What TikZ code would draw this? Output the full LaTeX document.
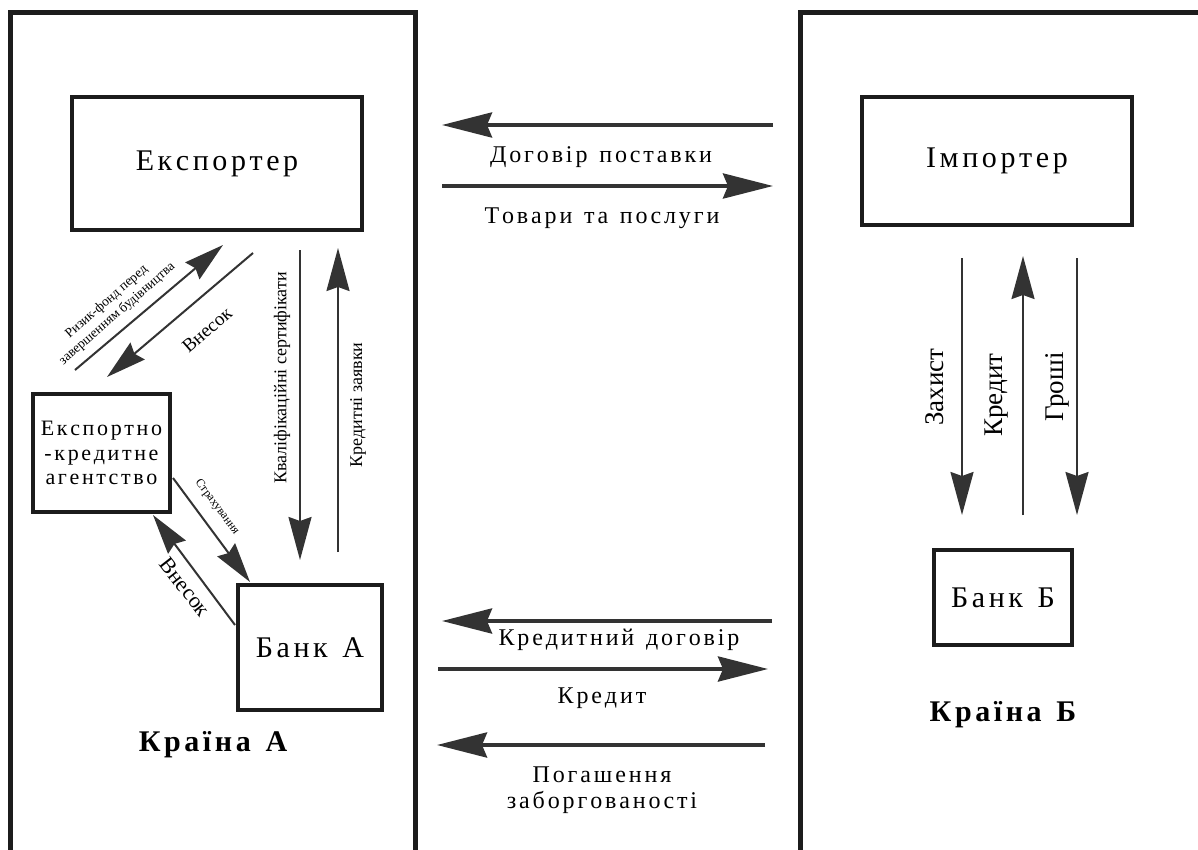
\documentclass[tikz,border=0pt]{standalone}
\usepackage{fontspec}
\setmainfont{Liberation Serif}
\newfontfamily\plainfont{Liberation Serif}
\usetikzlibrary{arrows.meta}
\definecolor{ink}{HTML}{1C1C1C}
\definecolor{arr}{HTML}{333333}
\makeatletter
\def\lsamt{0.12em}
\def\ls#1{\ls@a#1\@nil}
\def\ls@a#1{\ifx#1\@nil\kern-\lsamt\else#1\kern\lsamt\expandafter\ls@a\fi}
\makeatother
\begin{document}
\begin{tikzpicture}[x=1pt,y=-1pt,
  frame/.style={draw=ink,line width=5pt},
  box/.style={draw=ink,line width=4.5pt,inner sep=0pt,align=center},
  bigarrow/.style={draw=arr,line width=4pt,-{Stealth[length=50pt,width=25pt,inset=5pt]}},
  midarrow/.style={draw=arr,line width=2.2pt,-{Stealth[length=43pt,width=23pt,inset=4pt]}},
  diagarrow/.style={draw=arr,line width=2pt,-{Stealth[length=40pt,width=22pt,inset=4pt]}},
  lbl/.style={inner sep=0pt,font=\plainfont\fontsize{24}{26}\selectfont,align=center},
  boxtext/.style={font=\plainfont\fontsize{30}{34}\selectfont},
  country/.style={inner sep=0pt,font=\bfseries\fontsize{30}{34}\selectfont}]
\useasboundingbox (0,0) rectangle (1198,850);
\clip (0,0) rectangle (1198,850);
\fill[white] (0,0) rectangle (1198,850);
% country frames
\draw[frame] (10,13) rectangle (415,900);
\draw[frame] (800,13) rectangle (1230,900);
% boxes
\node[box,boxtext,minimum width=290pt,minimum height=133pt] (exp) at (217,163.5) {\ls{Експортер}};
\node[box,boxtext,minimum width=270pt,minimum height=128pt] (imp) at (997,161) {\ls{Імпортер}};
\node[box,minimum width=137pt,minimum height=118pt,font=\plainfont\fontsize{22}{24.5}\selectfont] (eca) at (101.5,453) {\ls{Експортно}\\\ls{-кредитне}\\\ls{агентство}};
\node[box,boxtext,minimum width=144pt,minimum height=125pt] (bankA) at (310,647.5) {\ls{Банк~А}};
\node[box,boxtext,minimum width=138pt,minimum height=95pt] (bankB) at (1003,597.5) {\ls{Банк~Б}};
\node[country] (ca) at (213,745) {\ls{Країна~А}};
\node[country] (cb) at (1003,715) {\ls{Країна~Б}};
% horizontal arrows
\coordinate (h1r) at (773,125); \coordinate (h1l) at (442,125);
\coordinate (h2l) at (442,186); \coordinate (h2r) at (773,186);
\coordinate (h3r) at (772,621); \coordinate (h3l) at (442,621);
\coordinate (h4l) at (438,669); \coordinate (h4r) at (768,669);
\coordinate (h5r) at (765,745); \coordinate (h5l) at (437,745);
\draw[bigarrow] (h1r) -- (h1l);
\draw[bigarrow] (h2l) -- (h2r);
\draw[bigarrow] (h3r) -- (h3l);
\draw[bigarrow] (h4l) -- (h4r);
\draw[bigarrow] (h5r) -- (h5l);
\node[lbl] (t1) at (601,157) {\ls{Договір~поставки}};
\node[lbl] (t2) at (602,218) {\ls{Товари~та~послуги}};
\node[lbl] (t3) at (619,640) {\ls{Кредитний~договір}};
\node[lbl] (t4) at (602,698) {\ls{Кредит}};
\node[lbl] (t5) at (602,790) {\ls{Погашення}\\\ls{заборгованості}};
% vertical arrows country A
\coordinate (v1t) at (300,250); \coordinate (v1b) at (300,560);
\coordinate (v2b) at (338,552); \coordinate (v2t) at (338,248);
\draw[midarrow] (v1t) -- (v1b);
\draw[midarrow] (v2b) -- (v2t);
\node[lbl,rotate=90,font=\plainfont\fontsize{18}{20}\selectfont] (t6) at (282,378) {Кваліфікаційні сертифікати};
\node[lbl,rotate=90,font=\plainfont\fontsize{18}{20}\selectfont] (t7) at (358,405) {Кредитні заявки};
% vertical arrows country B
\coordinate (v3t) at (962,258); \coordinate (v3b) at (962,515);
\coordinate (v4b) at (1023,515); \coordinate (v4t) at (1023,256);
\coordinate (v5t) at (1077,258); \coordinate (v5b) at (1077,515);
\draw[midarrow] (v3t) -- (v3b);
\draw[midarrow] (v4b) -- (v4t);
\draw[midarrow] (v5t) -- (v5b);
\node[lbl,rotate=90,font=\plainfont\fontsize{27}{30}\selectfont] (t8) at (935,387) {Захист};
\node[lbl,rotate=90,font=\plainfont\fontsize{27}{30}\selectfont] (t9) at (997,395) {Кредит};
\node[lbl,rotate=90,font=\plainfont\fontsize{27}{30}\selectfont] (t10) at (1057,387) {Гроші};
% diagonal arrows
\coordinate (d1s) at (75,370); \coordinate (d1e) at (223,245);
\coordinate (d2s) at (253,253); \coordinate (d2e) at (107,377);
\coordinate (d3s) at (173,478); \coordinate (d3e) at (250,582);
\coordinate (d4s) at (235,625); \coordinate (d4e) at (153,515);
\draw[diagarrow] (d1s) -- (d1e);
\draw[diagarrow] (d2s) -- (d2e);
\draw[diagarrow] (d3s) -- (d3e);
\draw[diagarrow] (d4s) -- (d4e);
\node[lbl,rotate=41,font=\plainfont\fontsize{13.5}{16}\selectfont] (t11) at (112,308) {Ризик-фонд перед\\завершенням будівництва};
\node[lbl,rotate=41,font=\plainfont\fontsize{19}{22}\selectfont] (t12) at (207,330) {Внесок};
\node[lbl,rotate=-53,font=\plainfont\fontsize{12}{14}\selectfont] (t13) at (217,507) {Страхування};
\node[lbl,rotate=-52,font=\plainfont\fontsize{22}{24}\selectfont] (t14) at (185,587) {Внесок};
\end{tikzpicture}
\end{document}
